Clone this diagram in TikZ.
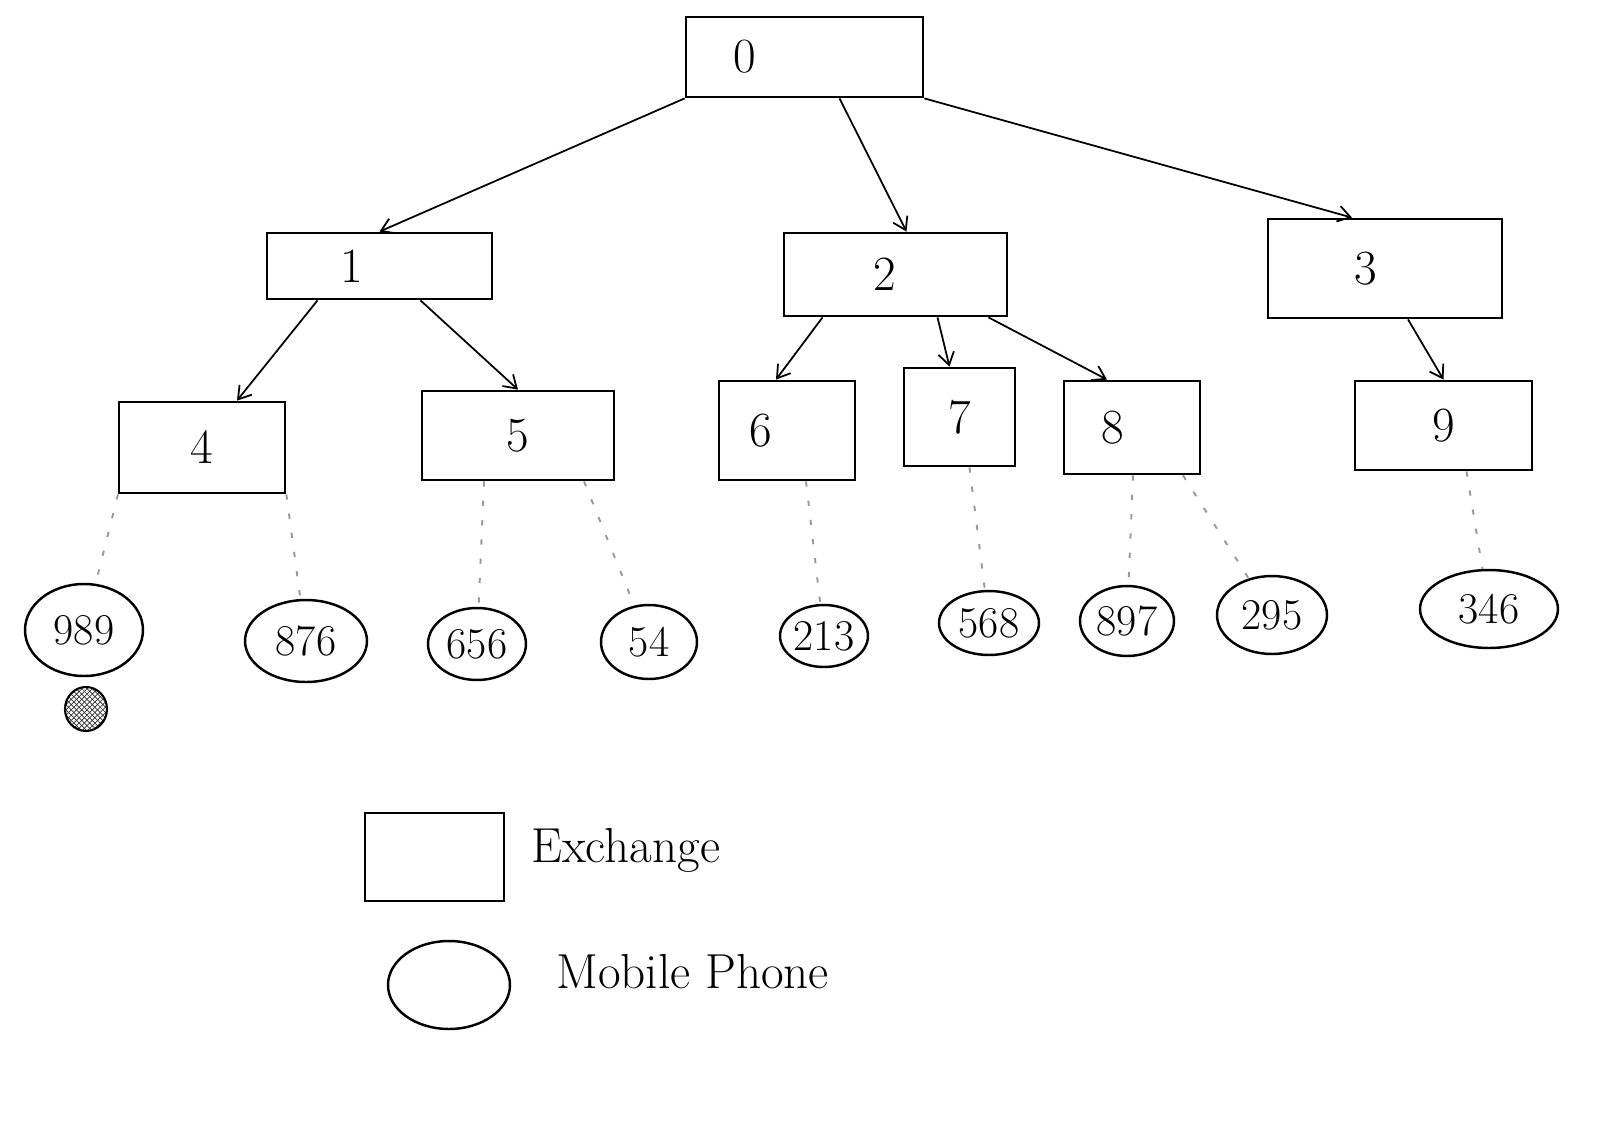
\documentclass[tikz,border=0pt]{standalone}
\usetikzlibrary{shapes.geometric,calc,patterns,arrows.meta}
\newcommand\offtext[2]{\makebox[0pt]{\kern#1\relax#2\kern-#1\relax}}
\begin{document}
\begin{tikzpicture}[x=0.02cm,y=-0.02cm,
  exch/.style={draw,line width=1.6pt,rectangle,inner sep=0pt,font=\fontsize{28}{32}\selectfont},
  phone/.style={draw,line width=1.4pt,ellipse,inner sep=0pt,font=\fontsize{25}{28}\selectfont},
  link/.style={line width=1pt,-{Straight Barb[length=7pt,width=9pt]}},
  dotlink/.style={line width=1.1pt,draw=black!40,dash pattern=on 3pt off 8pt},
  legendtext/.style={anchor=west,font=\fontsize{28}{32}\selectfont}]
\useasboundingbox (0,0) rectangle (1600,1129);
% exchanges
\node[exch,minimum width=4.74cm,minimum height=1.6cm] (n0) at (804.5,57) {\offtext{-1.2cm}{0}};
\node[exch,minimum width=4.5cm,minimum height=1.32cm] (n1) at (379.5,266) {\offtext{-0.56cm}{1}};
\node[exch,minimum width=4.46cm,minimum height=1.66cm] (n2) at (895.5,274.5) {\offtext{-0.22cm}{2}};
\node[exch,minimum width=4.68cm,minimum height=1.98cm] (n3) at (1385,268.5) {\offtext{-0.38cm}{3}};
\node[exch,minimum width=3.32cm,minimum height=1.82cm] (n4) at (202,447.5) {4};
\node[exch,minimum width=3.84cm,minimum height=1.78cm] (n5) at (518,435.5) {5};
\node[exch,minimum width=2.72cm,minimum height=1.98cm] (n6) at (787,430.5) {\offtext{-0.52cm}{6}};
\node[exch,minimum width=2.22cm,minimum height=1.96cm] (n7) at (959.5,417) {7};
\node[exch,minimum width=2.72cm,minimum height=1.86cm] (n8) at (1132,427.5) {\offtext{-0.38cm}{8}};
\node[exch,minimum width=3.54cm,minimum height=1.78cm] (n9) at (1443.5,425.5) {9};
% phones
\node[phone,minimum width=2.36cm,minimum height=1.84cm] (e989) at (84,630) {989};
\node[phone,minimum width=2.44cm,minimum height=1.64cm] (e876) at (306,641) {876};
\node[phone,minimum width=1.96cm,minimum height=1.44cm] (e656) at (477,644) {656};
\node[phone,minimum width=1.92cm,minimum height=1.48cm] (e54) at (649,642) {54};
\node[phone,minimum width=1.76cm,minimum height=1.24cm] (e213) at (824,636) {213};
\node[phone,minimum width=2.0cm,minimum height=1.28cm] (e568) at (989,623) {568};
\node[phone,minimum width=1.88cm,minimum height=1.4cm] (e897) at (1127,621) {897};
\node[phone,minimum width=2.2cm,minimum height=1.56cm] (e295) at (1272,615) {295};
\node[phone,minimum width=2.76cm,minimum height=1.56cm] (e346) at (1489,609) {346};
% hatched mark under 989
\node[draw,line width=1.2pt,ellipse,inner sep=0pt,minimum width=0.84cm,minimum height=0.88cm,pattern=crosshatch,pattern color=black!80] (mark) at (86,709) {};
% tree arrows
\draw[link] (n0.south west) -- (n1.north);
\draw[link] ($(n0.south)+(35,0)$) -- ($(n2.north)+(11,0)$);
\draw[link] (n0.south east) -- ($(n3.north)+(-33,0)$);
\draw[link] ($(n1.south)+(-62,0)$) -- ($(n4.north)+(35,0)$);
\draw[link] ($(n1.south)+(41,0)$) -- (n5.north);
\draw[link] ($(n2.south)+(-73,0)$) -- ($(n6.north)+(-11,0)$);
\draw[link] ($(n2.south)+(42,0)$) -- ($(n7.north)+(-10,0)$);
\draw[link] ($(n2.south)+(93,0)$) -- ($(n8.north)+(-25,0)$);
\draw[link] ($(n3.south)+(23,0)$) -- (n9.north);
% dotted attachments
\draw[dotlink] ($(n4.south)+(-84,0)$) -- (e989);
\draw[dotlink] (n4.south east) -- (e876);
\draw[dotlink] ($(n5.south)+(-34,0)$) -- (e656);
\draw[dotlink] ($(n5.south)+(66,0)$) -- (e54);
\draw[dotlink] ($(n6.south)+(19,0)$) -- (e213);
\draw[dotlink] ($(n7.south)+(10,0)$) -- (e568);
\draw[dotlink] ($(n8.south)+(1,0)$) -- (e897);
\draw[dotlink] ($(n8.south)+(51,0)$) -- (e295);
\draw[dotlink] ($(n9.south)+(23,0)$) -- (e346);
% legend
\node[exch,minimum width=2.78cm,minimum height=1.76cm] (lrect) at (434.5,857) {};
\node[legendtext] (ltext1) at (525,850) {Exchange};
\node[phone,minimum width=2.44cm,minimum height=1.76cm] (lell) at (449,985) {};
\node[legendtext] (ltext2) at (550,972) {Mobile Phone};
\end{tikzpicture}
\end{document}
